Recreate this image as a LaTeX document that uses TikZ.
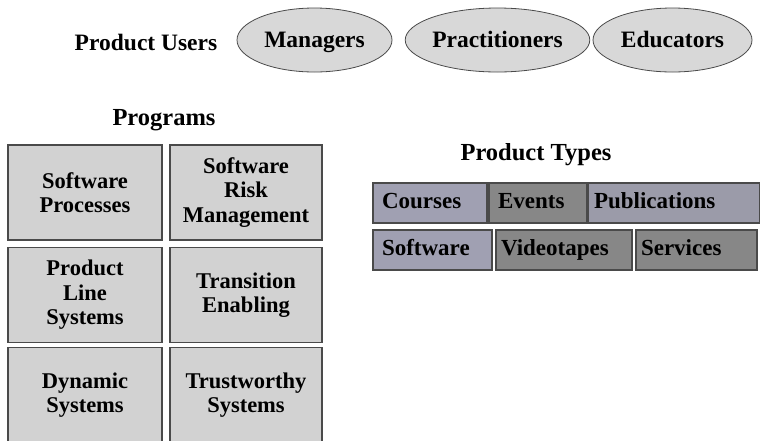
\documentclass[tikz,border=0pt]{standalone}
\usepackage{fontspec}
\setmainfont{Liberation Serif}
\usetikzlibrary{shapes.geometric}
\definecolor{ellfill}{HTML}{D8D8D8}
\definecolor{boxfill}{HTML}{D2D2D2}
\definecolor{typedark}{HTML}{878787}
\definecolor{typeblue}{HTML}{A0A0B2}
\definecolor{edge}{HTML}{4A4A4A}
\begin{document}
\begin{tikzpicture}[x=1pt,y=-1pt,
  every node/.style={font=\bfseries\fontsize{23.5}{26}\selectfont},
  head/.style={font=\bfseries\fontsize{24.5}{28}\selectfont},
  user/.style={ellipse,draw=edge,fill=ellfill,line width=0.8pt,inner sep=0pt,
    minimum height=64pt,text height=18pt,text depth=3pt},
  prog/.style={draw=edge,fill=boxfill,line width=1.2pt,align=center,
    minimum height=95pt,inner sep=2pt,font=\bfseries\fontsize{22.5}{24.5}\selectfont},
  ptype/.style={draw=edge,line width=1.6pt,align=left,inner ysep=0pt,inner xsep=9pt,
    minimum height=40pt,text height=15pt,text depth=5pt,
    font=\bfseries\fontsize{23}{26}\selectfont}]
  \useasboundingbox (0,0) rectangle (760,440);
  \node at (146,42) {Product Users};
  \node[user,minimum width=155pt] (mgr) at (314.5,40) {Managers};
  \node[user,minimum width=155pt] (prac) at (497.5,40) {Practitioners};
  \node[user,minimum width=159pt] (edu) at (672.5,40) {Educators};

  \node[head] at (164,120) {Programs};
  \node[prog,minimum width=154pt] (swp) at (85,192.5) {Software\\Processes};
  \node[prog,minimum width=152pt] (srm) at (246,192.5) {Software\\Risk\\Management};
  \node[prog,minimum width=154pt] (pls) at (85,295) {Product\\Line\\Systems};
  \node[prog,minimum width=152pt] (tre) at (246,295) {Transition\\Enabling};
  \node[prog,minimum width=154pt] (dys) at (85,395) {Dynamic\\Systems};
  \node[prog,minimum width=152pt] (tws) at (246,395) {Trustworthy\\Systems};

  \node[head] at (536,155) {Product Types};
  \node[ptype,fill=typeblue,text width=96pt,minimum width=114pt] (crs) at (430,203) {Courses};
  \node[ptype,fill=typedark,text width=80pt,minimum width=98pt] (evt) at (538,203) {Events};
  \node[ptype,fill=typeblue!80!typedark,inner xsep=6pt,text width=160pt,minimum width=172pt] (pub) at (674,203) {Publications};
  \node[ptype,fill=typeblue,text width=101pt,minimum width=119pt] (sw) at (432.5,250) {Software};
  \node[ptype,fill=typedark,inner xsep=5pt,text width=126pt,minimum width=136pt] (vid) at (564,250) {Videotapes};
  \node[ptype,fill=typedark,inner xsep=5pt,text width=111pt,minimum width=121pt] (svc) at (696.5,250) {Services};
\end{tikzpicture}
\end{document}
